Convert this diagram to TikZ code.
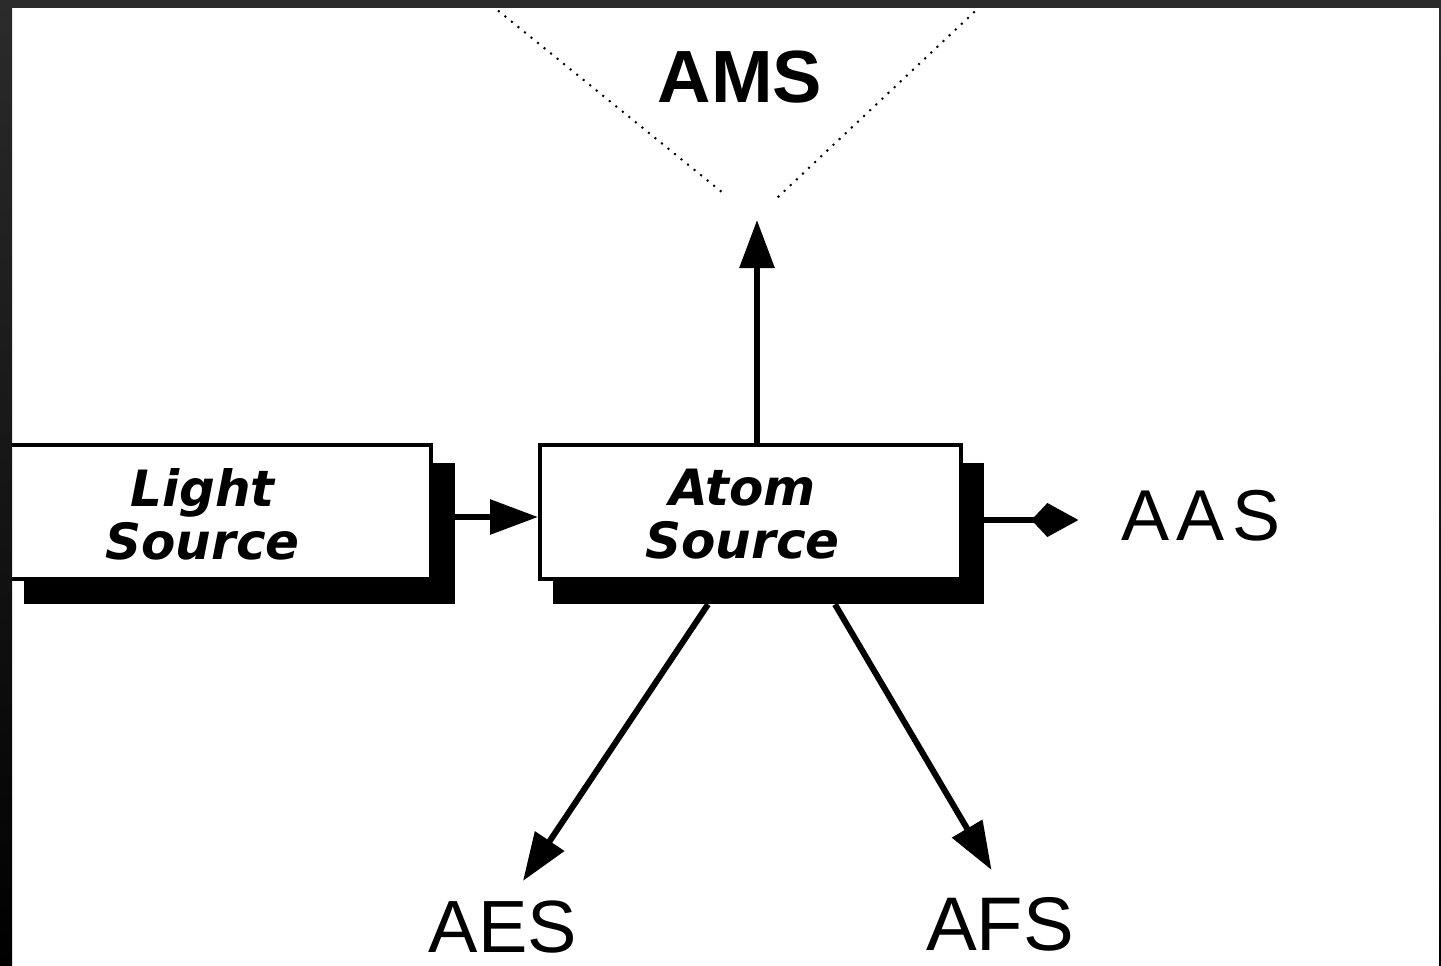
\documentclass[tikz,border=0pt]{standalone}
\usepackage{fontspec}
\setmainfont{Liberation Sans}
\newfontfamily\srcfont{DejaVu Sans}
\usepackage{tikz}
\usetikzlibrary{shapes.geometric, arrows.meta, positioning, calc}

\definecolor{framegrey}{HTML}{2B2B2B}

\tikzset{
    srcbox/.style={rectangle, draw=black, fill=white, line width=2pt, minimum width=210.5pt, minimum height=67pt, inner sep=0pt},
    srcshadow/.style={rectangle, fill=black, minimum width=215.5pt, minimum height=70.5pt, inner sep=0pt},
    srctext/.style={align=center, font=\srcfont\bfseries\itshape\fontsize{25}{26.5}\selectfont, inner sep=0pt},
    biglabel/.style={font=\fontsize{38}{40}\selectfont, inner sep=0pt, anchor=base},
    flow/.style={line width=3pt, -{Triangle[length=24pt, width=17pt]}},
    dotline/.style={line width=1pt, dash pattern=on 1pt off 3.2pt}
}

\begin{document}
\begin{tikzpicture}[x=0.5pt, y=-0.5pt]
    \useasboundingbox (0,0) rectangle (1441,965);
    \fill[white] (0,0) rectangle (1441,965);
    \begin{scope}
    \clip (0,0) rectangle (1441,965);

    \node [srcshadow] (atomsh) at (768.5,533.5) {};
    \node [srcbox] (atomsrc) at ($(atomsh)+(-18,-21.5)$) {};
    \node [srctext] at ([xshift=-4pt, yshift=-1pt]atomsrc.center) {Atom\\Source};

    \node [srcshadow] (lightsh) at (239.5,533) {};
    \node [srcbox] (lightsrc) at ($(lightsh)+(-19,-21)$) {};
    \node [srctext] at ([xshift=-9pt, yshift=-1pt]lightsrc.center) {Light\\Source};

    \node [biglabel, font=\bfseries\fontsize{37}{40}\selectfont] (ams) at (740,102) {AMS};
    \node [biglabel, font=\addfontfeature{LetterSpace=10}\fontsize{36}{40}\selectfont] (aas) at (1201,540) {AAS};
    \node [biglabel, font=\fontsize{37}{40}\selectfont] (aes) at (503,952) {AES};
    \node [biglabel] (afs) at (1000,950) {AFS};

    \coordinate (amsfocus) at (757,220);
    \draw [dotline] ($(amsfocus)+(-272,-220)$) -- ($(amsfocus)+(-34,-27)$);
    \draw [dotline] ($(amsfocus)+(230,-220)$) -- ($(amsfocus)+(20,-22)$);

    \draw [flow] (atomsrc.north -| amsfocus) -- (amsfocus);
    \draw [flow] ([yshift=8pt]lightsh.east) -- ([yshift=8pt]lightsh.east -| atomsrc.west);
    \draw [flow, -{Kite[length=23.5pt, width=17pt, inset=8pt]}, shorten >=21.5pt] ([yshift=6.75pt]atomsh.east) -- ([yshift=6.75pt]atomsh.east -| aas.west);
    \draw [flow] ([xshift=-30.25pt]atomsh.south) -- ([xshift=10pt, yshift=9.5pt]aes.north);
    \draw [flow] ([xshift=33.25pt]atomsh.south) -- ([xshift=-4.25pt, yshift=13.3pt]afs.north);
    \end{scope}

    \fill [framegrey] (0,0) rectangle (1441,8);
    \shade [top color=framegrey, bottom color=black] (0,0) rectangle (12,965);
    \shade [top color=framegrey, bottom color=black] (1439,0) rectangle (1441,965);
\end{tikzpicture}
\end{document}
